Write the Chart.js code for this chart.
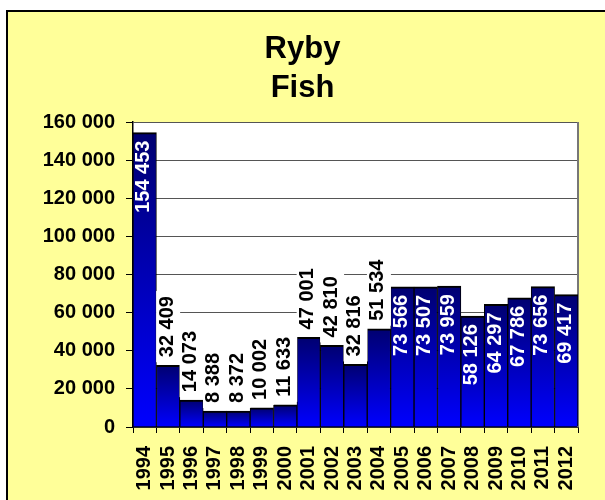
<!DOCTYPE html>
<html>
<head>
<meta charset="utf-8">
<title>Ryby / Fish</title>
<script src="https://cdn.jsdelivr.net/npm/chart.js@4.4.0/dist/chart.umd.min.js"></script>
<style>
    html, body { margin: 0; padding: 0; background: #fff; overflow: hidden; }
    #ramka { position: absolute; left: 6px; top: 10px; width: 620px; height: 520px; border: 2px solid #000; background: #ffff99; }
    #wykres { position: absolute; left: 0; top: 0; }
</style>
</head>
<body>
<div id="ramka"></div>
<canvas id="wykres" width="605" height="500"></canvas>
<script>
var tytul = ["Ryby", "Fish"];

var lata = ["1994", "1995", "1996", "1997", "1998", "1999", "2000", "2001", "2002", "2003",
            "2004", "2005", "2006", "2007", "2008", "2009", "2010", "2011", "2012"];

var polow = [154453, 32409, 14073, 8388, 8372, 10002, 11633, 47001, 42810, 32816,
             51534, 73566, 73507, 73959, 58126, 64297, 67786, 73656, 69417];

// os Y: 0 - 160 000 co 20 000
var osYmin = 0;
var osYmax = 160000;
var osYkrok = 20000;

// od tej wartosci etykieta idzie do srodka slupka (biala)
var progEtykiety = 55000;

var czcionka = '"Liberation Sans", Arial, sans-serif';
Chart.defaults.font.family = czcionka;
Chart.defaults.color = "#000";

function spacja(n) {
    return String(n).replace(/\B(?=(\d{3})+(?!\d))/g, " ");
}

// tytul wysrodkowany na calej szerokosci ramki, nie nad polem wykresu
var tytulWykresu = {
    id: "tytulWykresu",
    afterDraw: function (chart) {
        var ctx = chart.ctx;
        ctx.save();
        ctx.font = "bold 31px " + czcionka;
        ctx.fillStyle = "#000";
        ctx.textAlign = "center";
        ctx.textBaseline = "middle";
        tytul.forEach(function (linia, i) {
            ctx.fillText(linia, chart.width / 2, 49 + i * 39);
        });
        ctx.restore();
    }
};

// biale tlo pola wykresu + szara krawedz z prawej
var tloPola = {
    id: "tloPola",
    beforeDraw: function (chart) {
        var a = chart.chartArea;
        var ctx = chart.ctx;
        ctx.save();
        ctx.fillStyle = "#fff";
        ctx.fillRect(a.left, a.top, a.right - a.left, a.bottom - a.top);
        ctx.restore();
    },
    beforeDatasetsDraw: function (chart) {
        var a = chart.chartArea;
        var ctx = chart.ctx;
        ctx.save();
        ctx.strokeStyle = "#777";
        ctx.lineWidth = 2;
        ctx.beginPath();
        ctx.moveTo(a.right, a.top);
        ctx.lineTo(a.right, a.bottom);
        ctx.stroke();
        ctx.restore();
    }
};

// pionowe etykiety z wartosciami
var etykiety = {
    id: "etykiety",
    afterDatasetsDraw: function (chart) {
        var ctx = chart.ctx;
        var meta = chart.getDatasetMeta(0);
        ctx.save();
        ctx.font = "bold 20px " + czcionka;
        ctx.textBaseline = "middle";
        meta.data.forEach(function (slupek, i) {
            var wartosc = polow[i];
            var tekst = spacja(wartosc);
            var dl = ctx.measureText(tekst).width;
            ctx.save();
            ctx.translate(slupek.x, slupek.y);
            ctx.rotate(-Math.PI / 2);
            if (wartosc >= progEtykiety) {
                ctx.fillStyle = "#fff";
                ctx.textAlign = "right";
                ctx.fillText(tekst, -8, -1);
            } else {
                ctx.fillStyle = "#fff";
                ctx.fillRect(3, -12, dl + 10, 24);
                ctx.fillStyle = "#000";
                ctx.textAlign = "left";
                ctx.fillText(tekst, 8, -1);
            }
            ctx.restore();
        });
        ctx.restore();
    }
};

var ctx = document.getElementById("wykres");
var wykres = new Chart(ctx, {
    type: "bar",
    data: {
        labels: lata,
        datasets: [{
            label: "Ryby",
            data: polow,
            backgroundColor: function (c) {
                var chart = c.chart;
                if (!chart.chartArea || c.raw === undefined) {
                    return "#0000cc";
                }
                var y = chart.scales.y;
                var gora = y.getPixelForValue(c.raw);
                var dol = y.getPixelForValue(0);
                var g = chart.ctx.createLinearGradient(0, gora, 0, dol);
                g.addColorStop(0, "#000070");
                g.addColorStop(1, "#0000ff");
                return g;
            },
            borderColor: "#000",
            borderWidth: { top: 2, left: 1, right: 1, bottom: 0 },
            borderSkipped: "start",
            barPercentage: 1,
            categoryPercentage: 1
        }]
    },
    options: {
        responsive: false,
        animation: false,
        layout: {
            padding: { top: 122, right: 27, bottom: 0, left: 0 }
        },
        plugins: {
            legend: { display: false },
            tooltip: { enabled: false },
            title: { display: false }
        },
        scales: {
            x: {
                grid: {
                    offset: true,
                    drawOnChartArea: false,
                    drawTicks: true,
                    tickLength: 6,
                    color: "#000"
                },
                border: { color: "#000", width: 1.5 },
                ticks: {
                    minRotation: 90,
                    maxRotation: 90,
                    autoSkip: false,
                    padding: 13,
                    color: "#000",
                    font: { size: 20, weight: "bold" }
                },
                afterFit: function (s) { s.height = 73; }
            },
            y: {
                min: osYmin,
                max: osYmax,
                ticks: {
                    stepSize: osYkrok,
                    padding: 11,
                    color: "#000",
                    font: { size: 20, weight: "bold" },
                    callback: function (v) { return spacja(v); }
                },
                grid: {
                    color: "#555",
                    tickColor: "#000",
                    tickLength: 7,
                    lineWidth: 1
                },
                border: { color: "#000", width: 1.5 },
                afterFit: function (s) { s.width = 133; }
            }
        }
    },
    plugins: [tloPola, etykiety, tytulWykresu]
});
</script>
</body>
</html>
